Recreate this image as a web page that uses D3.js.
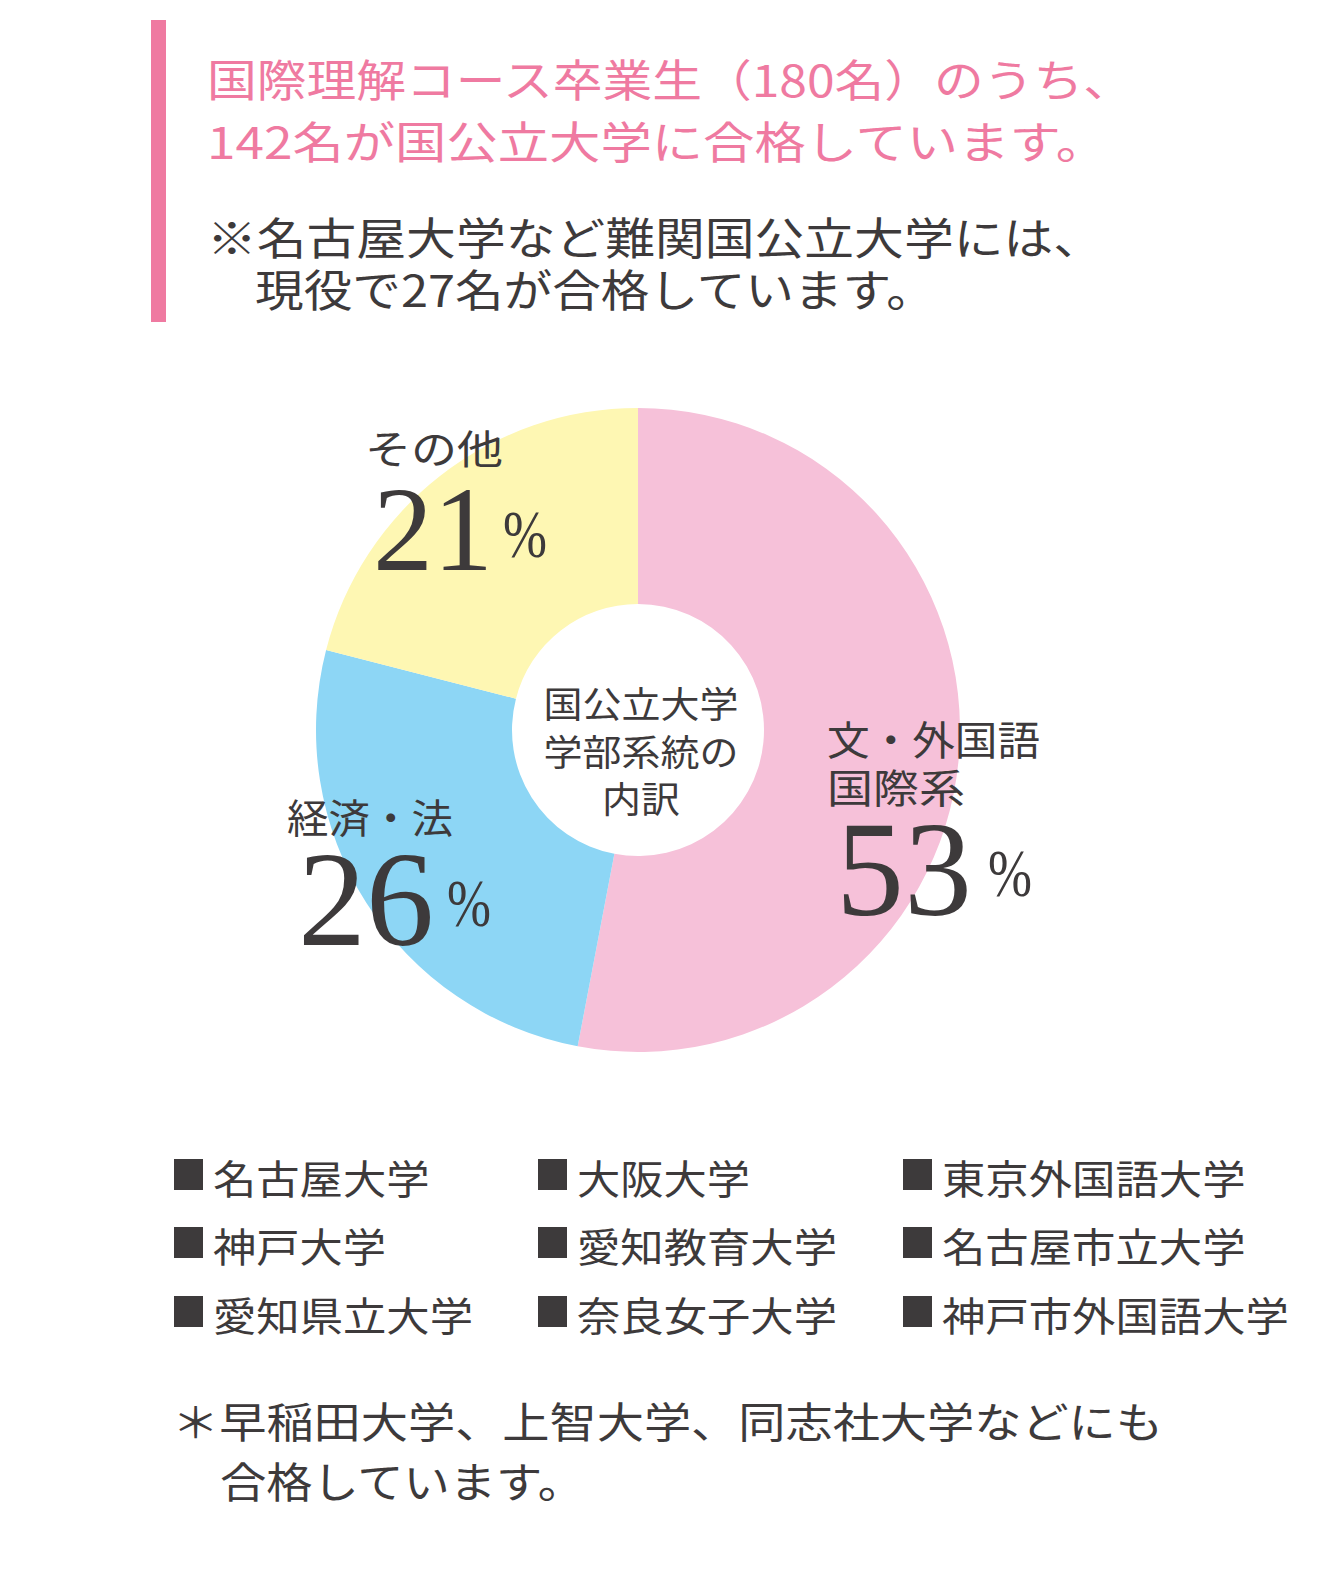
<!DOCTYPE html>
<html>
<head>
<meta charset="utf-8">
<script src="https://cdn.jsdelivr.net/npm/d3@7"></script>
<style>
  body { margin: 0; background: #fff; }
  svg text { font-family: "Noto Sans CJK JP", sans-serif; }
</style>
</head>
<body>
<svg id="chart" width="1319" height="1571"></svg>
<script>
// data
var categories = ["文・外国語国際系", "経済・法", "その他"];
var shares = [53, 26, 21];
var sliceColors = ["#f6c1d9", "#8dd6f5", "#fef7b3"];
var labelLines = [["文・外国語", "国際系"], ["経済・法"], ["その他"]];
var centerLines = ["国公立大学", "学部系統の", "内訳"];
var titleLines = ["国際理解コース卒業生（180名）のうち、", "142名が国公立大学に合格しています。"];
var noteLines = ["※名古屋大学など難関国公立大学には、", "現役で27名が合格しています。"];
var universities = [
  "名古屋大学", "大阪大学", "東京外国語大学",
  "神戸大学", "愛知教育大学", "名古屋市立大学",
  "愛知県立大学", "奈良女子大学", "神戸市外国語大学"
];
var footLines = ["＊早稲田大学、上智大学、同志社大学などにも", "合格しています。"];

var pink = "#ef7aa1";
var dark = "#3d3a3b";

var svg = d3.select("#chart");

// header block
svg.append("rect")
   .attr("x", 151).attr("y", 20)
   .attr("width", 15).attr("height", 302)
   .attr("fill", pink);

var titleBase = [97, 159];
var titleLen = [926, 900];
titleLines.forEach(function(t, i) {
    svg.append("text")
       .attr("x", 207).attr("y", titleBase[i])
       .attr("font-size", 44)
       .attr("fill", pink)
       .attr("textLength", titleLen[i])
       .attr("lengthAdjust", "spacingAndGlyphs")
       .text(t);
});

var noteX = [207, 255];
var noteBase = [255, 307];
var noteLen = [896, 680];
noteLines.forEach(function(t, i) {
    svg.append("text")
       .attr("x", noteX[i]).attr("y", noteBase[i])
       .attr("font-size", 44)
       .attr("fill", dark)
       .attr("textLength", noteLen[i])
       .attr("lengthAdjust", "spacingAndGlyphs")
       .text(t);
});

// donut
var cx = 638, cy = 730, outerR = 322, innerR = 126;

var pie = d3.pie().sort(null).value(function(d) { return d; });
var arc = d3.arc().innerRadius(innerR).outerRadius(outerR);

var g = svg.append("g").attr("transform", "translate(" + cx + "," + cy + ")");

g.selectAll("path")
 .data(pie(shares))
 .join("path")
 .attr("d", arc)
 .attr("fill", function(d, i) { return sliceColors[i]; });

// center caption
var centerBase = [-12, 36, 83];
var centerLen = [195, 195, 78];
centerLines.forEach(function(t, i) {
    g.append("text")
     .attr("x", 3).attr("y", centerBase[i])
     .attr("text-anchor", "middle")
     .attr("font-size", 36)
     .attr("fill", dark)
     .attr("textLength", centerLen[i])
     .attr("lengthAdjust", "spacingAndGlyphs")
     .text(t);
});

// slice labels (offsets from donut centre)
var labelPos = [
  { x: 189, lines: [25, 73], lens: [213, 138], num: { x: 198, y: 185, fs: 136 }, pct: { x: 350, y: 166 } },
  { x: -351, lines: [103], lens: [166], num: { x: -340, y: 215, fs: 136 }, pct: { x: -191, y: 196 } },
  { x: -273, lines: [-266], lens: [138], num: { x: -265, y: -160, fs: 120 }, pct: { x: -135, y: -173 } }
];

shares.forEach(function(v, i) {
    var p = labelPos[i];
    labelLines[i].forEach(function(t, j) {
        g.append("text")
         .attr("x", p.x).attr("y", p.lines[j])
         .attr("font-size", 40)
         .attr("fill", dark)
         .attr("textLength", p.lens[j])
         .attr("lengthAdjust", "spacingAndGlyphs")
         .text(t);
    });
    g.append("text")
     .attr("x", p.num.x).attr("y", p.num.y)
     .attr("font-family", "'Liberation Serif', 'DejaVu Serif', serif")
     .attr("font-size", p.num.fs)
     .attr("fill", dark)
     .style("font-family", "'Liberation Serif', serif")
     .text(v);
    g.append("text")
     .attr("x", p.pct.x).attr("y", p.pct.y)
     .attr("font-size", 68)
     .attr("fill", dark)
     .style("font-family", "'Liberation Serif', serif")
     .attr("textLength", 44)
     .attr("lengthAdjust", "spacingAndGlyphs")
     .text("%");
});

// university list
var colX = [174, 538, 903];
var rowY = [1194, 1262, 1331];
universities.forEach(function(name, i) {
    var c = i % 3, r = Math.floor(i / 3);
    svg.append("rect")
       .attr("x", colX[c]).attr("y", rowY[r] - 35)
       .attr("width", 29).attr("height", 31)
       .attr("fill", dark);
    svg.append("text")
       .attr("x", colX[c] + 39).attr("y", rowY[r])
       .attr("font-size", 40)
       .attr("fill", dark)
       .attr("textLength", name.length * 43.5 - 1)
       .attr("lengthAdjust", "spacingAndGlyphs")
       .text(name);
});

// footnote
var footX = [172, 220];
var footBase = [1438, 1498];
var footLen = [991, 364];
footLines.forEach(function(t, i) {
    svg.append("text")
       .attr("x", footX[i]).attr("y", footBase[i])
       .attr("font-size", 42)
       .attr("fill", dark)
       .attr("textLength", footLen[i])
       .attr("lengthAdjust", "spacingAndGlyphs")
       .text(t);
});
</script>
</body>
</html>
